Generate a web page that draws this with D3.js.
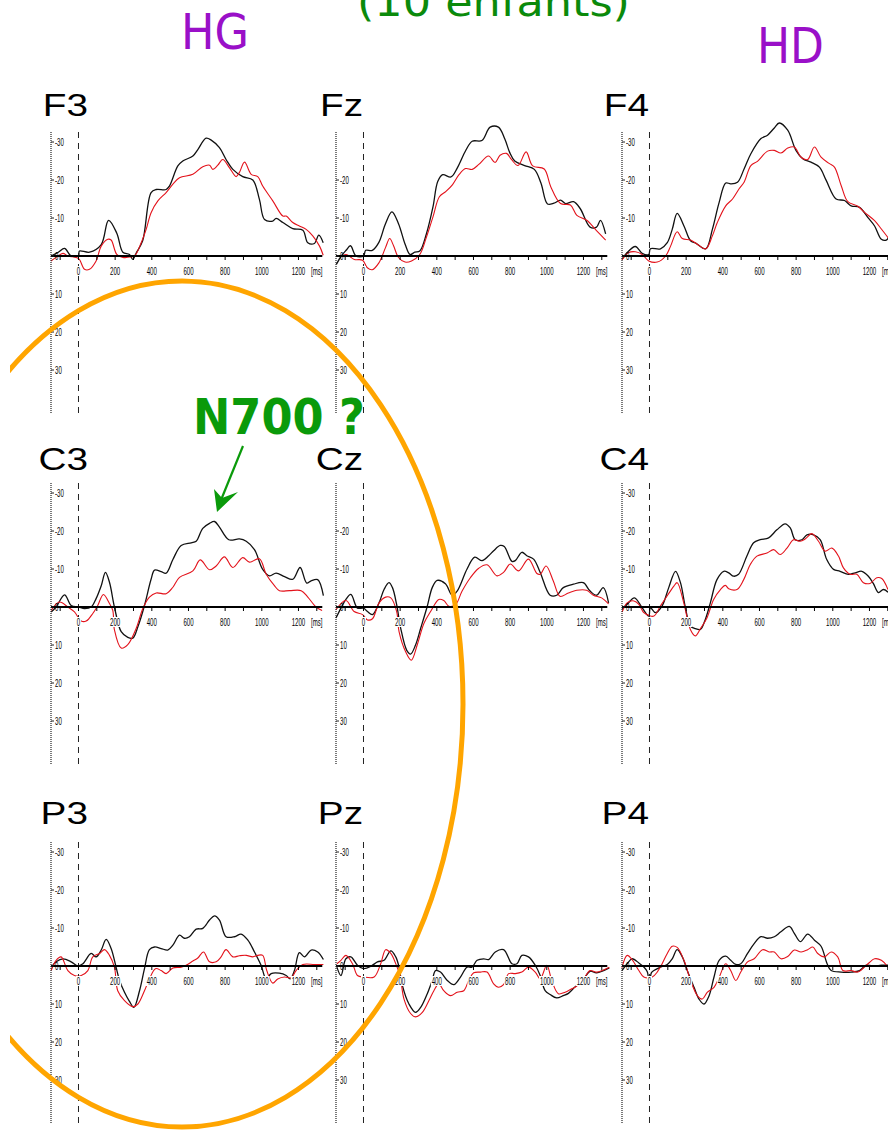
<!DOCTYPE html>
<html><head><meta charset="utf-8">
<script src="https://cdn.jsdelivr.net/npm/d3@7"></script>
<style>html,body{margin:0;padding:0;background:#fff;overflow:hidden}</style>
</head><body>
<svg id="c" width="888" height="1131"></svg>
<script>
// ---------------- DATA (time in ms, amplitude in µV; negative plotted up) ----------------
const panelNames = ["F3","Fz","F4","C3","Cz","C4","P3","Pz","P4"];
const xTickValues = [0,200,400,600,800,1000,1200];
const xUnitLabel = "[ms]";
const yTicksFull = [-30,-20,-10,0,10,20,30];
const yTicksNo30 = [-20,-10,0,10,20,30];
const headerLeft = "HG";
const headerRight = "HD";
const titleText = "(10 enfants)";
const annotationText = "N700 ?";

const F3_black = [[-150,0],[-110,-1],[-76,-2],[-40,0],[0,0],[5,-1.3],[60,-1],[124,-3],[164,-9.4],[209,-6],[242,-1],[278,-0.4],[296,0.9],[315,-0.8],[350,-4],[396,-16.7],[424,-17.5],[478,-17.5],[496,-18.4],[542,-23.7],[569,-25],[624,-26.3],[651,-28],[696,-31],[724,-30.5],[769,-28.5],[805,-25.4],[842,-22.8],[896,-20.9],[951,-20],[987,-14.9],[1015,-9.6],[1060,-9.2],[1078,-9.9],[1115,-8.8],[1169,-7.2],[1224,-6.8],[1251,-3.5],[1287,-3.3],[1311,-5.5],[1335,-3.5]];
const F3_red = [[-150,1.3],[-120,0.3],[-85,-0.7],[-58,0],[-13,0.4],[5,0.9],[33,3.5],[60,3.5],[96,1.3],[124,-2.6],[160,-4.4],[178,-4.2],[209,-0.4],[242,0.4],[269,0.3],[305,0],[342,-3.5],[369,-7],[396,-11.4],[433,-14.5],[478,-16.7],[515,-18.9],[551,-20.6],[624,-21.5],[678,-23.5],[715,-23.9],[733,-22.8],[760,-23.9],[787,-25.4],[824,-23.2],[860,-20.9],[878,-22],[906,-24.7],[942,-21.5],[978,-20.9],[1005,-18.4],[1060,-14.5],[1115,-10.5],[1133,-10.5],[1169,-8.8],[1205,-7.9],[1242,-7],[1278,-5.3],[1315,-2.6],[1335,-0.2]];

const Fz_black = [[-148,2.2],[-121,0],[-95,-1.5],[-71,-2.7],[-41,0],[0,0],[12,-1.5],[48,-1.5],[84,-3.6],[120,-8.5],[155,-11.6],[191,-8.5],[227,-3.1],[254,-0.4],[280,-1],[307,-1.3],[343,-5.8],[379,-12.9],[405,-19.6],[432,-21.4],[477,-20.8],[512,-23.2],[557,-27.7],[593,-30.2],[646,-30.4],[691,-33.9],[736,-33.9],[771,-30.8],[798,-27.2],[825,-25],[879,-23.8],[932,-22.8],[968,-19.2],[1004,-13.7],[1039,-13.9],[1075,-14.7],[1102,-13.8],[1146,-14.3],[1182,-12.5],[1236,-7.6],[1271,-7.6],[1293,-9.4],[1321,-5.8]];
const Fz_red = [[-148,0],[-120,0],[-95,-0.4],[-50,0.9],[-5,1.1],[21,3.1],[48,3.6],[84,1.8],[120,-2.2],[143,-4.6],[164,-2.7],[191,0.4],[227,1.6],[262,1.3],[307,-0.4],[343,-4.9],[379,-10.3],[414,-15.6],[450,-17],[486,-18.8],[521,-21.4],[557,-23],[593,-22.8],[629,-24.1],[682,-26.3],[718,-24.6],[745,-26.5],[780,-27],[807,-25.4],[843,-23.8],[887,-27.4],[923,-23.7],[986,-22.9],[1021,-18.3],[1075,-13.8],[1129,-13.4],[1164,-10.7],[1218,-9.4],[1271,-6.7],[1321,-4.2]];

const F4_black = [[-150,0.9],[-122,-0.9],[-77,-2.5],[-40,-0.7],[-4,-0.4],[5,-1.9],[60,-1.9],[97,-3.5],[124,-7],[151,-11.2],[188,-7.9],[224,-4],[252,-3.4],[307,-1.9],[343,-7],[380,-14.1],[416,-19.2],[443,-19],[480,-19.4],[516,-22.9],[553,-26.9],[608,-30.9],[644,-31.8],[681,-33.7],[708,-35],[754,-33.1],[799,-27.8],[836,-25.6],[881,-24.7],[927,-23.4],[964,-19.9],[1018,-15],[1064,-14.6],[1100,-13.2],[1146,-12.8],[1192,-10.1],[1228,-7.9],[1265,-4.4],[1292,-4.2],[1308,-5.3]];
const F4_red = [[-150,1],[-113,-0.9],[-77,-1.1],[-40,-0.4],[-4,1.3],[42,1.6],[88,0],[115,-2.6],[151,-6.4],[179,-4.6],[224,-4.2],[261,-3.1],[307,-1.9],[343,-5.3],[370,-8.8],[416,-13.2],[453,-15],[489,-17.7],[516,-19.4],[553,-23.8],[589,-24.9],[644,-27.6],[681,-27.8],[717,-27.1],[754,-28.4],[790,-28.7],[827,-26],[863,-25.4],[900,-28.7],[936,-26],[982,-24.3],[1009,-23.4],[1046,-18.5],[1082,-14.3],[1137,-13.1],[1173,-11.5],[1228,-9.3],[1265,-7.1],[1308,-4.4]];

const C3_black = [[-149,1.3],[-122,0],[-76,-3.2],[-40,-0.4],[0,0],[33,0.4],[69,0],[96,-2.2],[124,-5.6],[147,-9.1],[169,-6.5],[196,0],[233,6.5],[269,8],[296,8.2],[324,5.2],[360,-0.4],[396,-7.3],[415,-9.7],[451,-9.3],[478,-8.9],[515,-12.5],[560,-16.2],[615,-16.9],[642,-17.3],[678,-20.7],[715,-22],[742,-22.5],[769,-21],[820,-17.7],[878,-17.9],[915,-17.3],[960,-15.1],[1005,-9.9],[1042,-8.2],[1078,-8.9],[1124,-8],[1169,-7.3],[1209,-10.4],[1245,-6.3],[1269,-6.9],[1305,-7.2],[1336,-3]];
const C3_red = [[-149,0.9],[-104,-1.3],[-58,0],[-22,1.3],[15,3.7],[42,3.7],[78,1.7],[105,-0.4],[136,-3.3],[169,-0.9],[187,0.9],[196,6],[233,10.8],[269,9.9],[315,5.6],[351,0.4],[387,-2.6],[424,-3.7],[478,-3.5],[515,-5.2],[551,-7.8],[624,-9.5],[664,-12.4],[715,-9.8],[751,-10.8],[796,-13.2],[842,-10.4],[896,-13],[933,-11.8],[987,-12.7],[1024,-8.6],[1069,-5.6],[1096,-4.3],[1151,-4.3],[1215,-4.3],[1251,-2.6],[1296,0],[1329,0.9]];

const Cz_black = [[-150,2.9],[-123,0.3],[-96,-2],[-69,-3.3],[-33,0.3],[0,0.3],[22,1.2],[49,2],[85,-1.1],[112,-4.6],[139,-6.4],[158,-5.1],[181,-0.6],[203,5.6],[236,11.4],[257,12.4],[284,10],[312,5.6],[348,-0.2],[375,-5.1],[402,-7],[447,-6.1],[484,-3.1],[511,-4.2],[565,-10],[607,-13.1],[647,-12.2],[683,-13.5],[710,-14.8],[746,-16.2],[768,-15.9],[810,-12],[828,-12.2],[864,-14.4],[891,-13.5],[928,-12.6],[964,-9.1],[1018,-3.1],[1054,-3.1],[1090,-5.1],[1145,-6],[1199,-6.4],[1236,-4.2],[1272,-3.1],[1308,-5.1],[1337,-1.1]];
const Cz_red = [[-150,0.7],[-96,-1.7],[-51,1.2],[-5,2],[22,3.4],[49,3.1],[85,-1.1],[121,-2.6],[149,-2.4],[181,1.2],[194,6.5],[230,11.8],[261,14],[293,10],[330,4.3],[366,1.2],[411,-2],[438,-1.7],[466,-0.2],[502,-0.6],[538,-4.2],[583,-7.7],[629,-10.2],[674,-11.1],[728,-8.2],[764,-9.1],[801,-11.3],[846,-9.5],[900,-12.6],[946,-8.8],[964,-8.6],[996,-10.8],[1036,-6.8],[1072,-2.8],[1118,-3.7],[1163,-4.4],[1217,-4.4],[1254,-3.1],[1299,-2.4],[1337,-0.8]];

const C4_black = [[-149,0.6],[-122,-0.7],[-82,-2.4],[-40,0.2],[-4,2.4],[5,0.2],[33,1.5],[69,-0.3],[105,-5.1],[142,-9.4],[169,-6.4],[196,0.2],[223,5],[250,5.7],[278,5.9],[305,3.2],[332,-1.1],[368,-7.2],[405,-9.4],[432,-9],[459,-8.1],[486,-8.6],[532,-13.5],[568,-16.9],[604,-17.7],[650,-18.2],[695,-20.3],[740,-21.9],[768,-20.8],[795,-17.7],[831,-17.7],[859,-19],[895,-19],[931,-17.7],[967,-12.5],[1004,-9.9],[1040,-9.4],[1085,-8.6],[1122,-9],[1158,-9.4],[1194,-8.1],[1221,-6.2],[1249,-3.8],[1276,-4.6],[1301,-3.9]];
const C4_red = [[-149,1.3],[-122,-1.1],[-85,-1.6],[-58,-0.7],[-31,1.5],[-4,2.2],[24,2.4],[60,-0.3],[96,-2.9],[133,-5.5],[151,-6.4],[187,-1.1],[223,5.9],[250,7.6],[278,5.7],[314,2.8],[350,-2],[387,-4.6],[414,-5.7],[432,-4.8],[477,-4.6],[514,-7.2],[550,-11.2],[586,-13.4],[641,-14.2],[677,-15.1],[713,-13.8],[750,-15.5],[786,-17.7],[822,-17.3],[849,-17.9],[886,-19.3],[922,-17.3],[958,-14.7],[995,-15.5],[1031,-13.4],[1058,-10.3],[1095,-8.6],[1131,-8.6],[1167,-6.4],[1203,-6.2],[1240,-7.7],[1267,-7.5],[1301,-4.6]];

const P3_black = [[-149,0.3],[-122,-1.1],[-85,-1.9],[-40,-1.1],[-4,0],[24,-0.6],[69,-3.3],[96,-2.4],[124,-4.2],[151,-7],[178,-4.6],[205,0.3],[224,3.8],[251,6.9],[278,9.3],[302,10.9],[333,6.5],[360,0.7],[387,-4.3],[415,-5],[451,-4.6],[487,-4.2],[515,-5.5],[551,-8.1],[578,-7.3],[605,-7.7],[642,-9.7],[678,-9.9],[715,-12.1],[742,-13.2],[769,-12.1],[805,-7.7],[851,-7.7],[887,-8.4],[924,-6.8],[960,-3.7],[996,-0.2],[1024,3.4],[1051,2],[1096,1.9],[1133,2.5],[1155,3.4],[1178,1.2],[1205,-3.5],[1233,-2.4],[1269,-4.2],[1305,-3.7],[1336,-1.7]];
const P3_red = [[-149,1.2],[-122,-1.5],[-95,-2.4],[-58,1.2],[-22,2.5],[15,2.5],[51,1.2],[78,-2.4],[115,-3.3],[142,-4.3],[169,-2.8],[196,0.3],[214,6.5],[251,9.1],[296,10.7],[324,10],[360,6.5],[387,3.4],[420,0.7],[451,1.2],[478,2],[515,0.5],[560,0.3],[587,-0.2],[624,-1.3],[651,-2.1],[682,-3.7],[715,-1.1],[751,-1.1],[778,-2.4],[805,-4.3],[842,-2.4],[878,-2.7],[915,-2.8],[951,-2.4],[978,-2.8],[1005,-2.8],[1027,1.2],[1060,4.5],[1087,3.4],[1124,2.9],[1160,3.1],[1187,1.2],[1224,-0.4],[1287,-0.4],[1336,-0.4]];

const Pz_black = [[-145,0.3],[-123,2.5],[-96,-1.9],[-69,-2.4],[-33,-0.2],[0,0.7],[40,0.1],[76,-1.1],[112,-1.5],[149,-4],[176,-2.4],[194,0.3],[212,5.1],[248,10],[284,12.2],[312,10.9],[348,7.3],[375,3.8],[393,1.2],[420,1.6],[457,3.8],[493,4.9],[529,2.9],[565,0.3],[592,0.3],[620,-1.5],[656,-1.9],[683,-1.7],[719,-3.7],[764,-4.3],[810,-0.6],[837,-0.6],[864,-2.8],[900,-2.4],[937,-0.2],[964,2.5],[991,6.5],[1018,7.5],[1054,8.4],[1090,7.8],[1118,7.2],[1154,5.5],[1200,3.5],[1236,1.4],[1272,1.8],[1341,0.5]];
const Pz_red = [[-145,-0.6],[-123,-1.5],[-96,-2.8],[-60,-0.6],[-33,2.5],[0,2.9],[58,2.9],[94,-0.6],[121,-4.3],[149,-3.3],[176,-0.6],[199,2.5],[221,8.7],[257,12.5],[284,13.4],[321,12.2],[357,9.1],[384,6.5],[411,4.7],[438,6.5],[475,7.8],[511,6.9],[547,6.5],[574,3.8],[601,1.8],[638,1.6],[674,1.6],[710,4.7],[737,5.6],[764,4.9],[792,2],[828,2],[864,1.6],[900,0.3],[937,1.6],[964,3.4],[1000,-0.2],[1027,3.8],[1063,7.3],[1100,6.9],[1136,6],[1154,5.6],[1200,3.5],[1236,1.2],[1272,1.6],[1341,0.3]];

const P4_black = [[-150,1.2],[-122,-0.6],[-95,-1.9],[-58,-0.8],[-31,0.3],[-12,1.5],[0,5.6],[10,1.8],[24,1.2],[60,0.3],[97,-0.4],[124,-1.9],[151,-4.3],[179,-2.4],[206,1.2],[243,5.6],[270,8.7],[297,10],[325,7.8],[352,2.9],[380,-1.5],[416,-2.6],[443,-1.5],[471,-0.4],[498,-0.6],[535,-3.3],[571,-5.9],[608,-7.7],[644,-7.3],[681,-7.7],[717,-9],[763,-10.4],[790,-8.6],[823,-6.4],[863,-8.4],[900,-6.8],[936,-5.2],[969,-0.6],[991,1.2],[1046,1.6],[1100,1.6],[1146,1.2],[1182,-0.2],[1228,0],[1265,-0.2],[1301,-0.2]];
const P4_red = [[-150,0.4],[-122,-2.8],[-95,-1.7],[-58,1.2],[-31,2.9],[15,2.9],[42,1.6],[69,-0.6],[97,-3.3],[124,-5.2],[151,-4.9],[188,-1.5],[224,3.8],[261,7.8],[288,8.7],[316,6.9],[352,5.6],[380,3],[416,-0.6],[443,1.2],[471,3.8],[498,1.6],[535,-1.1],[571,-1.9],[617,-4.3],[653,-3.7],[681,-3.7],[717,-1.9],[754,-2.5],[790,-4.2],[827,-3.7],[863,-4.3],[891,-5],[918,-3.3],[954,-2.4],[991,-3.7],[1027,-2.4],[1055,1.2],[1100,1.2],[1137,1.6],[1192,-0.6],[1228,-1.9],[1265,-1.5],[1301,0.3]];

const seriesByPanel = {
  F3:[F3_black,F3_red], Fz:[Fz_black,Fz_red], F4:[F4_black,F4_red],
  C3:[C3_black,C3_red], Cz:[Cz_black,Cz_red], C4:[C4_black,C4_red],
  P3:[P3_black,P3_red], Pz:[Pz_black,Pz_red], P4:[P4_black,P4_red]
};
const yTicksByPanel = {F3:yTicksFull,Fz:yTicksNo30,F4:yTicksFull,C3:yTicksFull,Cz:yTicksNo30,C4:yTicksFull,P3:yTicksFull,Pz:yTicksFull,P4:yTicksFull};

// ---------------- LAYOUT ----------------
const W=888,H=1131;
const svg=d3.select("#c");
svg.append("rect").attr("width",W).attr("height",H).attr("fill","#fff");

const colAxisX=[51,336,622];
const colLabelRight=[88,363,649];
const rowBase=[256,607,966];
const rowLabelBase=[116,470,824];
const PX_PER_MS=0.1833, PX_PER_UV=3.8;
const seriesColors=["#111","#e3121b"];
const seriesWidths=[1.3,1.1];

const gCurves=svg.append("g"), gAxes=svg.append("g"), gLabels=svg.append("g");
const tickFont="'Liberation Sans', Arial, sans-serif";

function condensedText(g,x,y,txt,anchor){
  return g.append("text").attr("transform",`translate(${x},${y}) scale(0.58,1)`)
    .attr("font-family",tickFont).attr("font-size",10.5).attr("fill","#000")
    .attr("text-anchor",anchor||"middle").attr("dominant-baseline","central").text(txt);
}

panelNames.forEach((name,i)=>{
  const col=i%3,row=Math.floor(i/3);
  const ax=colAxisX[col], base=rowBase[row];
  const x=d3.scaleLinear().domain([-150,1330]).range([ax,ax+1480*PX_PER_MS]);
  const y=d3.scaleLinear().domain([-30,30]).range([base-30*PX_PER_UV,base+30*PX_PER_UV]);
  const yTop=base-124, yBot=base+157;

  const line=d3.line().x(d=>x(d[0])).y(d=>y(d[1])).curve(d3.curveCatmullRom.alpha(0.5));
  seriesByPanel[name].forEach((s,k)=>{
    gCurves.append("path").attr("d",line(s)).attr("fill","none")
      .attr("stroke",seriesColors[k]).attr("stroke-width",seriesWidths[k]).attr("stroke-linejoin","round");
  });

  gAxes.append("line").attr("x1",ax).attr("x2",ax).attr("y1",yTop).attr("y2",yBot)
    .attr("stroke","#222").attr("stroke-width",1.2).attr("stroke-dasharray","1,1");
  gAxes.append("line").attr("x1",x(0)).attr("x2",x(0)).attr("y1",yTop).attr("y2",yBot)
    .attr("stroke","#222").attr("stroke-width",1).attr("stroke-dasharray","6,5");
  gAxes.append("line").attr("x1",ax).attr("x2",x(1330)).attr("y1",y(0)).attr("y2",y(0))
    .attr("stroke","#000").attr("stroke-width",2);
  d3.range(-100,1301,100).forEach(t=>{
    gAxes.append("line").attr("x1",x(t)).attr("x2",x(t)).attr("y1",y(0)).attr("y2",y(0)+4)
      .attr("stroke","#000").attr("stroke-width",1);
  });
  xTickValues.forEach(t=>{
    const s=String(t), w=s.length*3.5+1.5;
    gLabels.append("rect").attr("x",x(t)-w/2).attr("y",y(0)+10).attr("width",w).attr("height",10).attr("fill","#fff");
    condensedText(gLabels,x(t),y(0)+15,s,"middle");
  });
  {
    const xm=x(1300);
    gLabels.append("rect").attr("x",xm-7).attr("y",y(0)+9).attr("width",14).attr("height",12).attr("fill","#fff");
    condensedText(gLabels,xm,y(0)+15,xUnitLabel,"middle");
  }
  yTicksByPanel[name].forEach(v=>{
    gAxes.append("line").attr("x1",ax).attr("x2",ax+3).attr("y1",y(v)).attr("y2",y(v)).attr("stroke","#222").attr("stroke-width",1);
    condensedText(gLabels,ax+4,y(v),String(v),"start");
  });
  gLabels.append("text").attr("transform",`translate(${colLabelRight[col]},${rowLabelBase[row]}) scale(1.25,1)`)
    .attr("text-anchor","end").attr("font-family","'Liberation Sans', Arial, sans-serif")
    .attr("font-size",31).attr("fill","#000").text(name);
});

// ---------------- HEADERS / ANNOTATIONS ----------------
const handFont="'DejaVu Sans', sans-serif";
svg.append("text").attr("x",357).attr("y",16).attr("font-family",handFont).attr("font-size",40)
  .attr("fill","#0b8a0b").attr("textLength",273).attr("lengthAdjust","spacingAndGlyphs").text(titleText);
svg.append("text").attr("x",181).attr("y",49).attr("font-family",handFont).attr("font-size",50)
  .attr("fill","#9a10c8").attr("textLength",68).attr("lengthAdjust","spacingAndGlyphs").text(headerLeft);
svg.append("text").attr("x",757).attr("y",63).attr("font-family",handFont).attr("font-size",50)
  .attr("fill","#9a10c8").attr("textLength",67).attr("lengthAdjust","spacingAndGlyphs").text(headerRight);

svg.append("text").attr("x",193).attr("y",434).attr("font-family",handFont).attr("font-weight","bold")
  .attr("font-size",50).attr("fill","#0a9a0a").attr("textLength",172).attr("lengthAdjust","spacingAndGlyphs").text(annotationText);
svg.append("line").attr("x1",243).attr("y1",446).attr("x2",221).attr("y2",500)
  .attr("stroke","#0a9a0a").attr("stroke-width",2.2);
svg.append("path").attr("d","M217,512 L214,489 L222,498 L238,492 Z").attr("fill","#0a9a0a");

svg.append("clipPath").attr("id","clipE").append("rect").attr("x",10).attr("y",0).attr("width",W).attr("height",H);
svg.append("ellipse").attr("cx",182).attr("cy",704).attr("rx",281).attr("ry",423)
  .attr("fill","none").attr("stroke","#ffa500").attr("stroke-width",5).attr("clip-path","url(#clipE)");
</script>
</body></html>
